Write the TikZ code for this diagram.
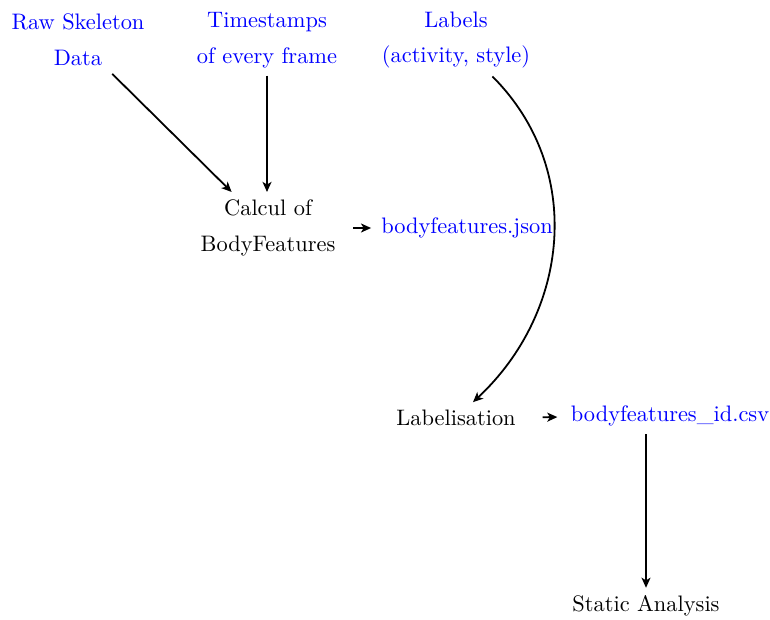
\documentclass[tikz,border=0pt]{standalone}
\usetikzlibrary{arrows.meta}
\begin{document}
\begin{tikzpicture}[x=0.4464pt,y=-0.4464pt,
  src/.style={text=blue,align=center},
  proc/.style={text=black,align=center},
  conn/.style={thick,-{Stealth[length=4.5pt,width=4pt,inset=1.2pt]}}]
\useasboundingbox (0,0) rectangle (770,619);
\node[src] (raw) at (78,40) {Raw Skeleton\\[4pt]Data};
\node[src] (ts) at (267,40) {Timestamps\\[4pt]of every frame};
\node[src] (lab) at (456,40) {Labels\\[4pt](activity, style)};
\node[proc] (calc) at (268,228) {Calcul of\\[4pt]BodyFeatures};
\node[src] (json) at (467,228) {bodyfeatures.json};
\node[proc] (labz) at (456,418) {Labelisation};
\node[src] (csv) at (670,416) {bodyfeatures\_id.csv};
\node[proc] (static) at (646,606) {Static Analysis};
\draw[conn] (raw) -- (calc);
\draw[conn] (ts) -- (ts |- calc.north);
\draw[conn,shorten <=4.5pt,shorten >=1pt] (calc) -- (json);
\draw[conn] (lab) to[out=-45,in=43,looseness=1.03] (labz);
\draw[conn,shorten <=8.5pt,shorten >=2.5pt] (labz) -- (csv);
\draw[conn] (static |- csv.south) -- (static);
\end{tikzpicture}
\end{document}
